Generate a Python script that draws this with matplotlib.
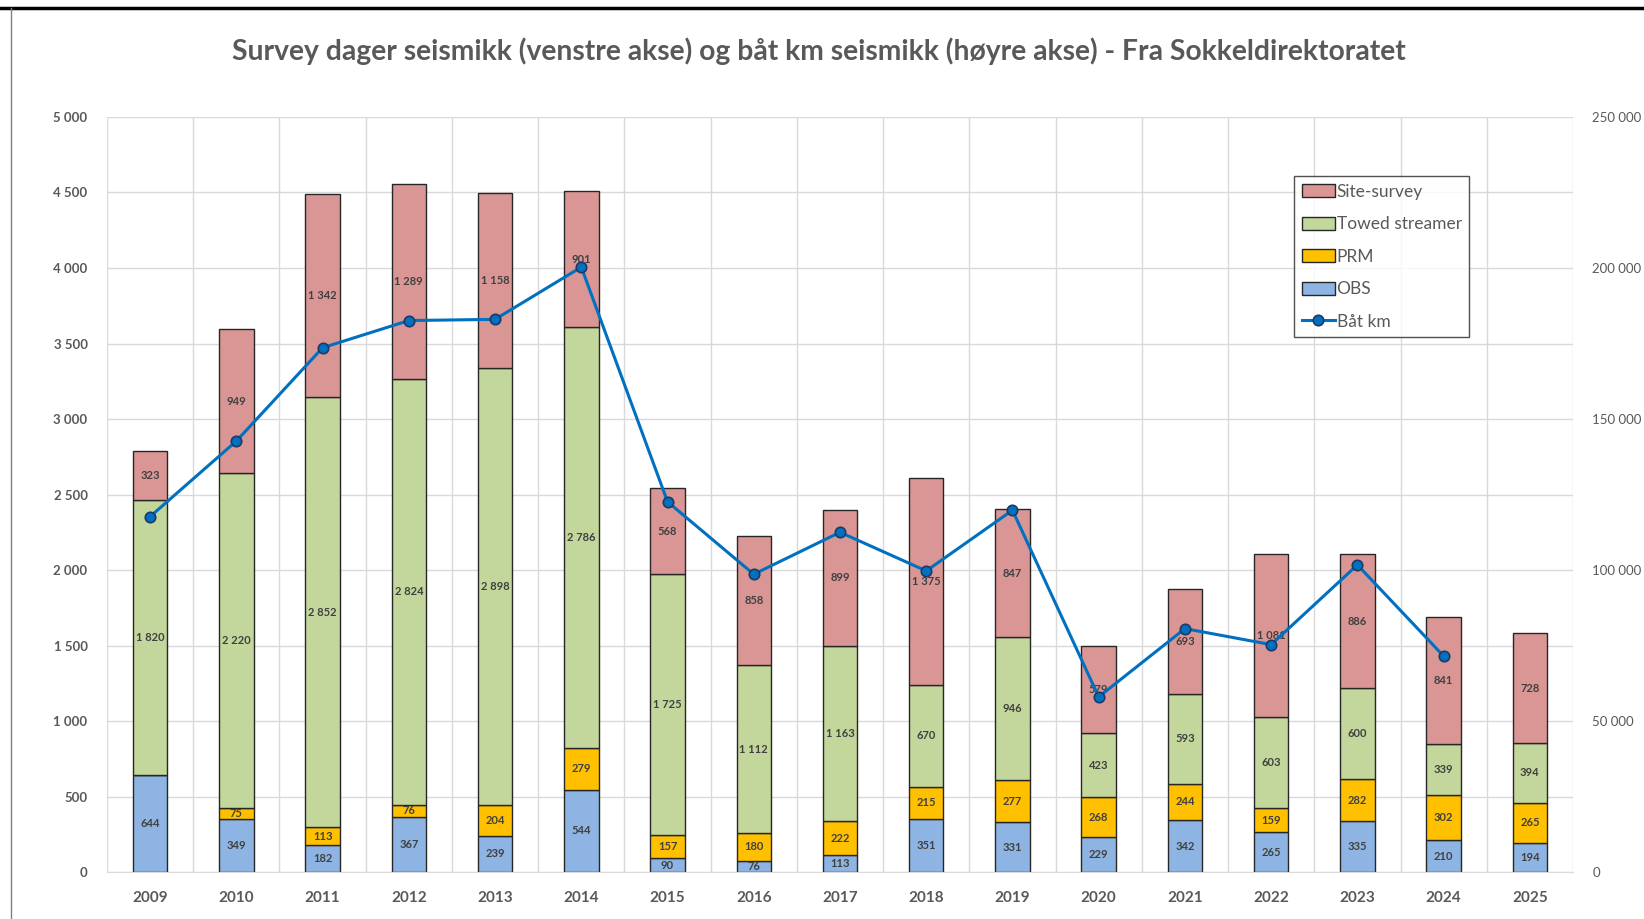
import matplotlib.pyplot as plt
from matplotlib.lines import Line2D
import numpy as np

plt.rcParams['font.family'] = ['Lato', 'DejaVu Sans']

years = ['2009', '2010', '2011', '2012', '2013', '2014', '2015', '2016', '2017',
         '2018', '2019', '2020', '2021', '2022', '2023', '2024', '2025']
obs = [644, 349, 182, 367, 239, 544, 90, 76, 113, 351, 331, 229, 342, 265, 335, 210, 194]
prm = [0, 75, 113, 76, 204, 279, 157, 180, 222, 215, 277, 268, 244, 159, 282, 302, 265]
towed = [1820, 2220, 2852, 2824, 2898, 2786, 1725, 1112, 1163, 670, 946, 423, 593, 603, 600, 339, 394]
site = [323, 949, 1342, 1289, 1158, 901, 568, 858, 899, 1375, 847, 579, 693, 1081, 886, 841, 728]
baat_km = [117700, 142700, 173600, 182600, 183000, 200300, 122600, 98600, 112500,
           99700, 119800, 58000, 80600, 75300, 101700, 71500]

series = [('OBS', obs, '#8EB4E3'),
          ('PRM', prm, '#FFC000'),
          ('Towed streamer', towed, '#C3D69B'),
          ('Site-survey', site, '#D99694')]


def fmt(v):
    return f'{v:,.0f}'.replace(',', ' ')


fig = plt.figure(figsize=(16.44, 9.19), dpi=100)
ax = fig.add_axes([0.0651, 0.0511, 0.8917, 0.8216])
x = np.arange(len(years))

bottom = np.zeros(len(years))
handles = {}
for name, vals, col in series:
    vals = np.array(vals, dtype=float)
    bars = ax.bar(x, vals, 0.4, bottom=bottom, color=col, edgecolor='#262626',
                  linewidth=1.0, zorder=2, label=name)
    handles[name] = bars
    for xi, b, v in zip(x, bottom, vals):
        if v > 0:
            ax.text(xi, b + v / 2, fmt(v), ha='center', va='center', fontsize=8,
                    fontweight='bold', color='#404040', zorder=5)
    bottom += vals

ax.set_xlim(-0.5, len(years) - 0.5)
ax.set_ylim(0, 5000)
ax.set_yticks(np.arange(0, 5001, 500))
ax.set_yticklabels([fmt(v) for v in np.arange(0, 5001, 500)])
ax.set_xticks(x)
ax.set_xticklabels(years, fontweight='bold')
ax.set_xticks(np.arange(-0.5, len(years), 1), minor=True)
ax.grid(True, axis='y', color='#D9D9D9', linewidth=1, zorder=0)
ax.grid(True, axis='x', which='minor', color='#D9D9D9', linewidth=1, zorder=0)
ax.tick_params(axis='both', which='both', length=0)
ax.tick_params(axis='y', labelsize=9.5, labelcolor='#595959', pad=14)
ax.tick_params(axis='x', labelsize=11, labelcolor='#595959', pad=14)
for lbl in ax.get_yticklabels():
    lbl.set_fontweight('bold')
for s in ['top', 'right', 'left']:
    ax.spines[s].set_visible(False)
ax.spines['bottom'].set_color('#D9D9D9')
ax.set_axisbelow(True)

ax2 = ax.twinx()
ax2.set_ylim(0, 250000)
ax2.set_yticks(np.arange(0, 250001, 50000))
ax2.set_yticklabels([fmt(v) for v in np.arange(0, 250001, 50000)])
ax2.tick_params(axis='y', length=0, labelsize=9.5, labelcolor='#595959', pad=14)
for s in ax2.spines.values():
    s.set_visible(False)
line, = ax2.plot(x[:len(baat_km)], baat_km, color='#0070C0', linewidth=2.2,
                 marker='o', markersize=7.5, markerfacecolor='#0070C0',
                 markeredgecolor='#1F3864', markeredgewidth=1.2, zorder=4,
                 label='Båt km')

leg = ax2.legend([handles['Site-survey'], handles['Towed streamer'], handles['PRM'],
                  handles['OBS'], line],
                 ['Site-survey', 'Towed streamer', 'PRM', 'OBS', 'Båt km'],
                 loc='upper left', bbox_to_anchor=(0.8097, 0.922), fontsize=12.5,
                 frameon=True, fancybox=False, edgecolor='#262626',
                 handlelength=1.9, handleheight=0.8, handletextpad=0.1,
                 labelspacing=0.95, borderpad=0.45, borderaxespad=0,
                 labelcolor='#595959')
leg.get_frame().set_linewidth(1.0)

fig.text(0.498, 0.944, 'Survey dager seismikk (venstre akse) og båt km seismikk (høyre akse) - Fra Sokkeldirektoratet',
         ha='center', va='center', fontsize=20.3, fontweight='bold', color='#595959')

fig.add_artist(Line2D([0, 1], [0.9912, 0.9912], color='black', linewidth=2.5,
                      transform=fig.transFigure))
fig.add_artist(Line2D([0.0067, 0.0067], [0, 0.9912], color='#7F7F7F', linewidth=1,
                      transform=fig.transFigure))

fig.savefig('out.png', dpi=100)
